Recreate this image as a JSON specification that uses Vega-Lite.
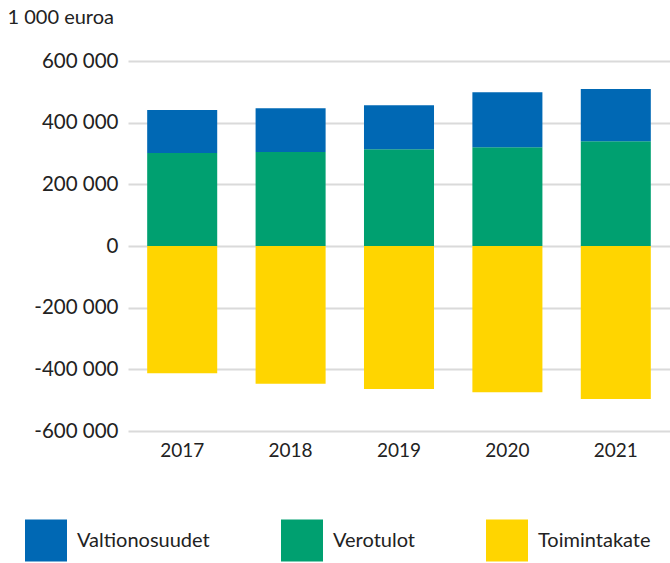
{
  "$schema": "https://vega.github.io/schema/vega-lite/v6.json",
  "width": 542,
  "height": 370,
  "autosize": {"type": "none"},
  "padding": {"left": 128, "top": 61, "right": 0, "bottom": 132},
  "background": "white",
  "config": {
    "locale": {"number": {"decimal": ",", "thousands": " ", "grouping": [3], "currency": ["", " €"], "minus": "-"}},
    "font": "Lato",
    "view": {"stroke": null},
    "axis": {"labelFont": "Lato", "labelColor": "#222222", "titleFont": "Lato", "titleColor": "#222222"}
  },
  "data": {
    "values": [
      {"vuosi": "2017", "erä": "Verotulot", "arvo": 301600, "jarjestys": 1},
      {"vuosi": "2017", "erä": "Valtionosuudet", "arvo": 139400, "jarjestys": 2},
      {"vuosi": "2017", "erä": "Toimintakate", "arvo": -412900, "jarjestys": 3},
      {"vuosi": "2018", "erä": "Verotulot", "arvo": 304800, "jarjestys": 1},
      {"vuosi": "2018", "erä": "Valtionosuudet", "arvo": 141700, "jarjestys": 2},
      {"vuosi": "2018", "erä": "Toimintakate", "arvo": -446500, "jarjestys": 3},
      {"vuosi": "2019", "erä": "Verotulot", "arvo": 313600, "jarjestys": 1},
      {"vuosi": "2019", "erä": "Valtionosuudet", "arvo": 142700, "jarjestys": 2},
      {"vuosi": "2019", "erä": "Toimintakate", "arvo": -463700, "jarjestys": 3},
      {"vuosi": "2020", "erä": "Verotulot", "arvo": 320000, "jarjestys": 1},
      {"vuosi": "2020", "erä": "Valtionosuudet", "arvo": 178400, "jarjestys": 2},
      {"vuosi": "2020", "erä": "Toimintakate", "arvo": -474500, "jarjestys": 3},
      {"vuosi": "2021", "erä": "Verotulot", "arvo": 339500, "jarjestys": 1},
      {"vuosi": "2021", "erä": "Valtionosuudet", "arvo": 169600, "jarjestys": 2},
      {"vuosi": "2021", "erä": "Toimintakate", "arvo": -496200, "jarjestys": 3}
    ]
  },
  "mark": {"type": "bar"},
  "encoding": {
    "x": {
      "field": "vuosi", "type": "ordinal",
      "scale": {"paddingInner": 0.354, "paddingOuter": 0.177},
      "axis": {"title": null, "domain": false, "ticks": false, "labelAngle": 0, "labelPadding": 10, "labelBaseline": "top", "labelFontSize": 19}
    },
    "y": {
      "field": "arvo", "type": "quantitative", "stack": "zero",
      "scale": {"domain": [-600000, 600000], "nice": false},
      "axis": {
        "values": [-600000, -400000, -200000, 0, 200000, 400000, 600000],
        "format": ",d",
        "domain": false, "ticks": false, "labelPadding": 10, "labelFontSize": 20.5,
        "gridColor": "#dadada", "gridWidth": 2,
        "title": "1 000 euroa", "titleAngle": 0, "titleAlign": "left", "titleBaseline": "alphabetic",
        "titleX": -121, "titleY": -38, "titleFontSize": 20, "titleFontWeight": "normal"
      }
    },
    "color": {
      "field": "erä", "type": "nominal",
      "scale": {"domain": ["Valtionosuudet", "Verotulot", "Toimintakate"], "range": ["#0068b4", "#00a070", "#ffd500"]},
      "legend": {
        "title": null, "orient": "none", "legendX": -103, "legendY": 458.5,
        "direction": "horizontal", "columns": 3, "columnPadding": 71, "padding": 0,
        "symbolType": "square", "symbolSize": 1764, "symbolStrokeWidth": 0,
        "labelFontSize": 20, "labelColor": "#222222", "labelFont": "Lato", "labelOffset": 10
      }
    },
    "order": {"field": "jarjestys", "type": "quantitative"}
  }
}
